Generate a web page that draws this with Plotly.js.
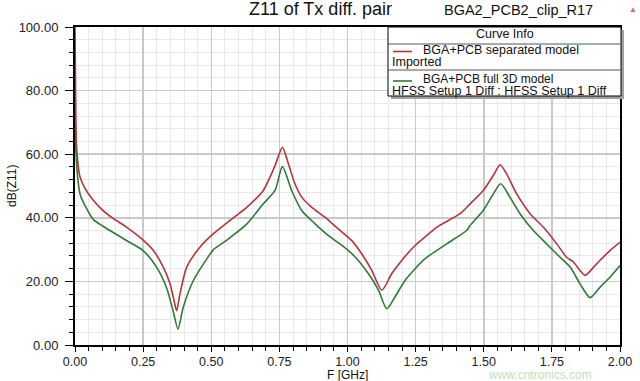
<!DOCTYPE html>
<html>
<head>
<meta charset="utf-8">
<script src="https://cdn.plot.ly/plotly-3.0.1.min.js"></script>
<style>html,body{margin:0;padding:0;background:#fff;}#chart{width:640px;height:381px;}</style>
</head>
<body>
<div id="chart"></div>
<script>
// ---- data ----
const sepFreq = [0, 0.003, 0.006, 0.012, 0.018, 0.035, 0.067, 0.1, 0.14, 0.19, 0.25, 0.287, 0.324, 0.349, 0.362, 0.373, 0.385, 0.41, 0.459, 0.508, 0.569, 0.63, 0.691, 0.734, 0.761, 0.783, 0.807, 0.832, 0.869, 0.917, 0.966, 1.015, 1.052, 1.089, 1.126, 1.162, 1.199, 1.248, 1.284, 1.327, 1.413, 1.45, 1.498, 1.535, 1.56, 1.584, 1.621, 1.67, 1.719, 1.768, 1.804, 1.829, 1.853, 1.872, 1.915, 1.963, 2.0];
const sepDB   = [100, 72, 62, 56, 53, 49.5, 45.5, 42.5, 39.8, 37, 33, 29.8, 24.5, 19.2, 14.5, 10.8, 16, 24.5, 30.8, 35, 39.2, 43.3, 48.6, 56.4, 62.2, 57, 50.7, 46.5, 43.3, 40.2, 36.5, 32.9, 28.7, 23.5, 17.2, 22.4, 26.6, 31.3, 33.9, 37, 41.3, 44.4, 48.6, 53.3, 56.7, 53.8, 47.5, 41.3, 37, 31.8, 27.6, 26.1, 23.5, 21.9, 25.6, 29.7, 32.3];

const fullFreq = [0, 0.003, 0.006, 0.012, 0.02, 0.03, 0.067, 0.1, 0.128, 0.19, 0.25, 0.3, 0.336, 0.36, 0.378, 0.397, 0.434, 0.495, 0.508, 0.557, 0.63, 0.691, 0.734, 0.761, 0.795, 0.832, 0.881, 0.93, 0.98, 1.029, 1.077, 1.114, 1.144, 1.174, 1.211, 1.248, 1.284, 1.364, 1.437, 1.45, 1.498, 1.535, 1.562, 1.596, 1.633, 1.682, 1.731, 1.78, 1.817, 1.853, 1.89, 1.927, 1.963, 2.0];
const fullDB   = [72, 62, 57, 51, 47, 45, 39.5, 37.5, 36, 32.8, 29.7, 24.4, 18, 10.7, 5, 11.8, 20.2, 28.5, 30, 33, 38, 44.4, 48.6, 56.1, 48.6, 42.3, 38.1, 34.4, 31.3, 27.6, 22.4, 17.2, 11.4, 15.1, 20.3, 24, 27.1, 31.8, 36, 37.6, 42.3, 47.5, 50.7, 46.5, 41.3, 36, 31.8, 27.6, 24.5, 19.3, 14.9, 18.2, 21.3, 25];

const seriesNames = ["BGA+PCB separated model", "BGA+PCB full 3D model"];
const seriesSub = ["Imported", "HFSS Setup 1 Diff : HFSS Setup 1 Diff"];
const xTickVals = [0, 0.25, 0.5, 0.75, 1.0, 1.25, 1.5, 1.75, 2.0];
const yTickVals = [0, 20, 40, 60, 80, 100];

// ---- layout helpers ----
const W = 640, H = 381, ML = 75, MR = 20, MT = 27, MB = 36;
const PW = W - ML - MR, PH = H - MT - MB;
const px = x => (x - ML) / PW;
const py = y => (MT + PH - y) / PH;
const FONT = "Liberation Sans, Arial, sans-serif";
const RED = "#b5343a", GREEN = "#2f7a34";

const traces = [
  {x: sepFreq, y: sepDB, mode: "lines", line: {color: RED, width: 1.6, shape: "spline", smoothing: 0.7}, showlegend: false, hoverinfo: "skip"},
  {x: fullFreq, y: fullDB, mode: "lines", line: {color: GREEN, width: 1.6, shape: "spline", smoothing: 0.7}, showlegend: false, hoverinfo: "skip"}
];

const ann = (x, y, text, size, opts) => Object.assign({
  xref: "paper", yref: "paper", x: px(x), y: py(y), text: text, showarrow: false,
  xanchor: "left", yanchor: "middle", borderpad: 0, font: {family: FONT, size: size, color: "#111"}
}, opts || {});

const annotations = [
  ann(320, 9, "Z11 of Tx diff. pair", 18, {xanchor: "center"}),
  ann(443, 10, "BGA2_PCB2_clip_R17", 14.5),
  ann(633, 9, "▲", 8, {xanchor: "center", font: {family: FONT, size: 8, color: "#e06a6a"}}),
  ann(12, 186, "dB(Z11)", 12, {xanchor: "center", textangle: -90}),
  ann(347, 374.5, "F [GHz]", 12, {xanchor: "center"}),
  ann(505, 34, "Curve Info", 12.5, {xanchor: "center"}),
  ann(422, 50, seriesNames[0], 12.5),
  ann(391, 61.5, seriesSub[0], 12.5),
  ann(422, 79, seriesNames[1], 12),
  ann(391, 90.5, seriesSub[1], 12.5),
  ann(540, 374.5, "www.cntronics.com", 12, {xanchor: "center", font: {family: FONT, size: 12, color: "#c2e0bb"}})
];

const shapes = [
  {type: "rect", xref: "paper", yref: "paper", x0: px(391), x1: px(624), y0: py(30), y1: py(99), fillcolor: "#a0a0a0", line: {width: 0}, layer: "above"},
  {type: "rect", xref: "paper", yref: "paper", x0: px(388), x1: px(621), y0: py(27), y1: py(96), fillcolor: "#ffffff", line: {color: "#000", width: 1}, layer: "above"},
  {type: "line", xref: "paper", yref: "paper", x0: px(388), x1: px(621), y0: py(44), y1: py(44), line: {color: "#555", width: 1}, layer: "above"},
  {type: "line", xref: "paper", yref: "paper", x0: px(388), x1: px(621), y0: py(70), y1: py(70), line: {color: "#555", width: 1}, layer: "above"},
  {type: "line", xref: "paper", yref: "paper", x0: px(393), x1: px(412), y0: py(51.5), y1: py(51.5), line: {color: RED, width: 1.6}, layer: "above"},
  {type: "line", xref: "paper", yref: "paper", x0: px(393), x1: px(412), y0: py(81), y1: py(81), line: {color: GREEN, width: 1.6}, layer: "above"}
];

const layout = {
  width: W, height: H,
  margin: {l: ML, r: MR, t: MT, b: MB, pad: 0},
  paper_bgcolor: "#fff", plot_bgcolor: "#fff",
  font: {family: FONT, size: 12, color: "#222"},
  showlegend: false,
  xaxis: {
    range: [0, 2], tickvals: xTickVals, tickformat: ".2f",
    showgrid: true, gridcolor: "#c9c9c9", gridwidth: 1.5,
    showline: true, linecolor: "#000", linewidth: 2, mirror: true,
    ticks: "outside", ticklen: 5, tickcolor: "#000", tickwidth: 1,
    minor: {dtick: 0.05, showgrid: true, gridcolor: "#e8e8e8", gridwidth: 1, ticks: "outside", ticklen: 4, tickcolor: "#000"},
    zeroline: false, tickfont: {family: FONT, size: 12.5, color: "#222"}, ticklabelstandoff: -1, layer: "below traces"
  },
  yaxis: {
    range: [0, 100], tickvals: yTickVals, tickformat: ".2f",
    showgrid: true, gridcolor: "#c9c9c9", gridwidth: 1.5,
    showline: true, linecolor: "#000", linewidth: 2, mirror: true,
    ticks: "outside", ticklen: 8, tickcolor: "#000", tickwidth: 1,
    minor: {dtick: 4, showgrid: true, gridcolor: "#e8e8e8", gridwidth: 1, ticks: "outside", ticklen: 4, tickcolor: "#000"},
    zeroline: false, tickfont: {family: FONT, size: 13, color: "#222"}, ticklabelstandoff: 4, layer: "below traces"
  },
  annotations: annotations,
  shapes: shapes
};

Plotly.newPlot("chart", traces, layout, {displayModeBar: false, staticPlot: true});
</script>
</body>
</html>
